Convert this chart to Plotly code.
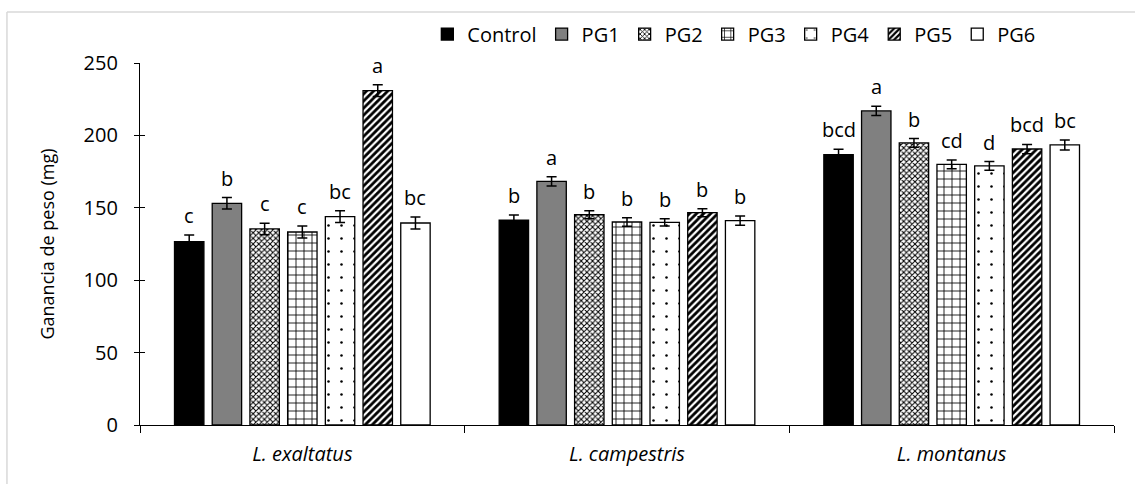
import numpy as np
import plotly.graph_objects as go

# Species (x categories) and treatments (series)
species = ["L. exaltatus", "L. campestris", "L. montanus"]
treatments = ["Control", "PG1", "PG2", "PG3", "PG4", "PG5", "PG6"]

# Mean weight gain (mg) per treatment, one value per species
control = [126.6, 141.4, 186.7]
pg1 = [153.1, 168.3, 216.9]
pg2 = [135.4, 145.2, 194.8]
pg3 = [133.3, 140.2, 180.0]
pg4 = [143.9, 140.0, 178.9]
pg5 = [230.9, 146.6, 190.6]
pg6 = [139.5, 141.1, 193.4]

# Standard errors
err_control = [4.6, 3.7, 3.7]
err_pg1 = [4.0, 3.2, 3.2]
err_pg2 = [4.0, 2.8, 3.0]
err_pg3 = [4.1, 3.0, 3.0]
err_pg4 = [4.0, 2.5, 3.0]
err_pg5 = [4.0, 2.8, 3.2]
err_pg6 = [4.1, 3.2, 3.5]

# Significance letters
let_control = ["c", "b", "bcd"]
let_pg1 = ["b", "a", "a"]
let_pg2 = ["c", "b", "b"]
let_pg3 = ["c", "b", "cd"]
let_pg4 = ["bc", "b", "d"]
let_pg5 = ["a", "b", "bcd"]
let_pg6 = ["bc", "b", "bc"]

y_ticks = [0, 50, 100, 150, 200, 250]

values = [control, pg1, pg2, pg3, pg4, pg5, pg6]
errors = [err_control, err_pg1, err_pg2, err_pg3, err_pg4, err_pg5, err_pg6]
letters = [let_control, let_pg1, let_pg2, let_pg3, let_pg4, let_pg5, let_pg6]

FONT = "Open Sans"
BARGAP = 0.187
BARGROUPGAP = 0.22

# Fill styles per treatment
styles = [
    dict(color="#000000"),
    dict(color="#808080"),
    dict(color="#ffffff", pattern=dict(shape="x", size=4, solidity=0.45,
                                       fgcolor="#000000", bgcolor="#ffffff", fillmode="replace")),
    dict(color="#ffffff", pattern=dict(shape="+", size=8, solidity=0.2,
                                       fgcolor="#000000", bgcolor="#ffffff", fillmode="replace")),
    dict(color="#ffffff", pattern=dict(shape=".", size=13, solidity=0.03,
                                       fgcolor="#000000", bgcolor="#ffffff", fillmode="replace")),
    dict(color="#ffffff", pattern=dict(shape="/", size=5, solidity=0.55,
                                       fgcolor="#000000", bgcolor="#ffffff", fillmode="replace")),
    dict(color="#ffffff"),
]

xpos = np.arange(len(species))

fig = go.Figure()
for name, vals, errs, st in zip(treatments, values, errors, styles):
    fig.add_trace(go.Bar(
        name=name, x=xpos, y=vals,
        marker=dict(line=dict(color="#000000", width=1.3), **st),
        error_y=dict(type="data", array=errs, visible=True,
                     color="#000000", thickness=1.5, width=5),
    ))

# Letters above each error bar
n = len(treatments)
slot = (1 - BARGAP) / n
annotations = []
for j, (vals, errs, labs) in enumerate(zip(values, errors, letters)):
    for i in range(len(species)):
        annotations.append(dict(
            x=xpos[i] + (j - (n - 1) / 2) * slot, y=vals[i] + errs[i],
            xref="x", yref="y", text=labs[i], showarrow=False,
            yanchor="bottom", yshift=4,
            font=dict(family=FONT, size=20, color="#000000"),
        ))

# Light outer frame
frame = dict(color="#d9d9d9", width=1.5)
shapes = [
    dict(type="line", xref="paper", yref="paper", x0=-0.1366, x1=1.03,
         y0=1.1409, y1=1.1409, line=frame),
    dict(type="line", xref="paper", yref="paper", x0=-0.1366, x1=-0.1366,
         y0=-0.17, y1=1.1409, line=frame),
]

fig.update_layout(
    width=1135, height=484,
    margin=dict(l=140, r=21, t=63, b=59),
    paper_bgcolor="#ffffff", plot_bgcolor="#ffffff",
    barmode="group", bargap=BARGAP, bargroupgap=BARGROUPGAP,
    font=dict(family=FONT, size=20, color="#000000"),
    showlegend=True,
    legend=dict(orientation="h", x=0.295, xanchor="left", y=1.08, yanchor="middle",
                font=dict(family=FONT, size=20, color="#000000"),
                bgcolor="rgba(0,0,0,0)", itemclick=False),
    annotations=annotations,
    shapes=shapes,
    xaxis=dict(
        range=[-0.5, len(species) - 0.5],
        tickvals=xpos, ticktext=[f"<i>{s}</i>" for s in species],
        ticks="", ticklabelstandoff=11,
        tickfont=dict(family=FONT, size=20, color="#000000"),
        showline=True, linecolor="#000000", linewidth=1.3,
        showgrid=False, zeroline=False,
        minor=dict(tickvals=list(np.arange(len(species) + 1) - 0.5),
                   ticks="outside", ticklen=7, tickcolor="#000000", tickwidth=1.3),
    ),
    yaxis=dict(
        title=dict(text="Ganancia de peso (mg)", font=dict(family=FONT, size=18), standoff=24),
        range=[0, 250], tickvals=y_ticks,
        ticks="outside", ticklen=5, tickcolor="#000000", tickwidth=1.3,
        ticklabelstandoff=12,
        tickfont=dict(family=FONT, size=20, color="#000000"),
        showline=True, linecolor="#000000", linewidth=1.3,
        showgrid=False, zeroline=False,
    ),
    yaxis2=dict(
        overlaying="y", matches="y", range=[0, 250], tickvals=y_ticks,
        ticks="inside", ticklen=5, tickcolor="#000000", tickwidth=1.3,
        showticklabels=False, showgrid=False, zeroline=False, side="left",
    ),
)

# Invisible trace so the inner tick marks of the second y axis are drawn
fig.add_trace(go.Scatter(x=[0], y=[0], yaxis="y2", mode="markers",
                         marker=dict(opacity=0), showlegend=False, hoverinfo="skip"))

fig.write_html("out.html")
